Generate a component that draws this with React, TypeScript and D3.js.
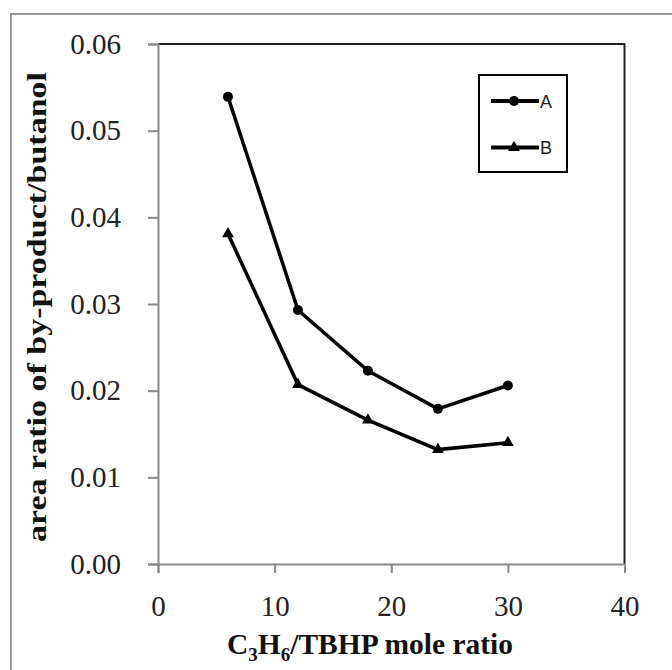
import React, { useRef, useEffect } from "react"
import * as d3 from "d3"

// mole ratio values
const ratios = [6, 12, 18, 24, 30]
const seriesA = [0.0539, 0.0293, 0.0223, 0.0179, 0.0206]
const seriesB = [0.0381, 0.0207, 0.0166, 0.0132, 0.0140]
const xTicks = [0, 10, 20, 30, 40]
const yTicks = [0, 0.01, 0.02, 0.03, 0.04, 0.05, 0.06]

const serif = "'Liberation Serif', 'Times New Roman', serif"

export default function App() {
  const svgRef = useRef<SVGSVGElement>(null)

  useEffect(() => {
    const svg = d3.select(svgRef.current)
    svg.selectAll("*").remove()

    const left = 158, right = 624.5, top = 44, bottom = 564
    const x = d3.scaleLinear().domain([0, 40]).range([left, right])
    const y = d3.scaleLinear().domain([0, 0.06]).range([bottom, top])

    // outer frame
    svg.append("rect")
      .attr("x", 11).attr("y", 14).attr("width", 700).attr("height", 700)
      .attr("fill", "white").attr("stroke", "#999").attr("stroke-width", 2)

    // top / right border of plot
    svg.append("path")
      .attr("d", `M${left},${top}H${right}V${bottom}`)
      .attr("fill", "none").attr("stroke", "#222").attr("stroke-width", 2)

    // y axis
    const yAxis = svg.append("g")
      .attr("transform", `translate(${left},0)`)
      .call(d3.axisLeft(y).tickValues(yTicks).tickFormat(d3.format(".2f")).tickSize(10).tickPadding(27))
      .attr("font-family", serif).attr("font-size", 29)
    yAxis.select(".domain").attr("stroke", "#888").attr("stroke-width", 2)
    yAxis.selectAll(".tick line").attr("stroke", "#888").attr("stroke-width", 2)
    yAxis.selectAll(".tick text").style("font-family", serif).attr("fill", "#222")

    // x axis
    const xAxis = svg.append("g")
      .attr("transform", `translate(0,${bottom})`)
      .call(d3.axisBottom(x).tickValues(xTicks).tickSize(9).tickPadding(22))
      .attr("font-family", serif).attr("font-size", 29)
    xAxis.select(".domain").attr("stroke", "#888").attr("stroke-width", 2)
    xAxis.selectAll(".tick line").attr("stroke", "#888").attr("stroke-width", 2)
    xAxis.selectAll(".tick text").style("font-family", serif).attr("fill", "#222")

    // axis titles
    svg.append("text")
      .attr("transform", "translate(46,307) rotate(-90)")
      .attr("text-anchor", "middle")
      .style("font-family", serif).attr("font-weight", "bold")
      .attr("font-size", 28).attr("fill", "#111")
      .attr("textLength", 470).attr("lengthAdjust", "spacingAndGlyphs")
      .text("area ratio of by-product/butanol")

    const xt = svg.append("text")
      .attr("x", 370).attr("y", 654)
      .attr("text-anchor", "middle")
      .style("font-family", serif).attr("font-weight", "bold")
      .attr("font-size", 29.5).attr("fill", "#111")
    xt.append("tspan").text("C")
    xt.append("tspan").attr("font-size", 19).attr("dy", 7).text("3")
    xt.append("tspan").attr("dy", -7).text("H")
    xt.append("tspan").attr("font-size", 19).attr("dy", 7).text("6")
    xt.append("tspan").attr("dy", -7).text("/TBHP mole ratio")

    const line = d3.line<number>()
      .x((d, i) => x(ratios[i]))
      .y(d => y(d))

    const tri = d3.symbol().type(d3.symbolTriangle).size(60)

    // series A
    svg.append("path").datum(seriesA).attr("d", line)
      .attr("fill", "none").attr("stroke", "#000").attr("stroke-width", 3.5)
    svg.selectAll(".ptA").data(seriesA).enter().append("circle")
      .attr("cx", (d, i) => x(ratios[i])).attr("cy", d => y(d))
      .attr("r", 5).attr("fill", "#000")

    // series B
    svg.append("path").datum(seriesB).attr("d", line)
      .attr("fill", "none").attr("stroke", "#000").attr("stroke-width", 3.5)
    svg.selectAll(".ptB").data(seriesB).enter().append("path")
      .attr("d", tri)
      .attr("transform", (d, i) => `translate(${x(ratios[i])},${y(d)})`)
      .attr("fill", "#000")

    // legend
    const lg = svg.append("g")
    lg.append("rect")
      .attr("x", 479).attr("y", 75).attr("width", 88).attr("height", 97)
      .attr("fill", "white").attr("stroke", "#000").attr("stroke-width", 2)
    const keys = ["A", "B"]
    keys.forEach((k, i) => {
      const ly = 101 + i * 46.5
      lg.append("line").attr("x1", 491).attr("x2", 539).attr("y1", ly).attr("y2", ly)
        .attr("stroke", "#000").attr("stroke-width", 4)
      if (i === 0) {
        lg.append("circle").attr("cx", 514).attr("cy", ly).attr("r", 5).attr("fill", "#000")
      } else {
        lg.append("path").attr("d", tri).attr("transform", `translate(514,${ly})`).attr("fill", "#000")
      }
      lg.append("text").attr("x", 540).attr("y", ly + 6.5)
        .style("font-family", "'Liberation Sans', Arial, sans-serif").attr("font-size", 18).attr("fill", "#222")
        .text(k)
    })
  }, [])

  return (
    <svg ref={svgRef} width={672} height={670}
      style={{ position: "absolute", left: 0, top: 0, background: "white" }} />
  )
}
